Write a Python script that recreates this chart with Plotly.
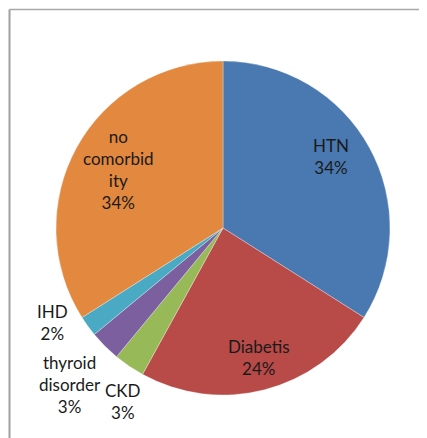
import plotly.graph_objects as go

W, H = 427, 438
OFF = 8  # page body margin offset

# Data
labels = ["HTN", "Diabetis", "CKD", "thyroid disorder", "IHD", "no comorbidity"]
values = [34, 24, 3, 3, 2, 34]
label_text = ["HTN", "Diabetis", "CKD", "thyroid<br>disorder", "IHD", "no<br>comorbid<br>ity"]
colors = ["#4A78B0", "#B84A48", "#97B957", "#7B5F9E", "#4AAAC4", "#E2883F"]

# label placement (pixel centres on page)
label_pos = [(331, 156), (259, 357), (123, 401), (70, 384), (52, 322), (118, 169)]

def px(x):
    return (x - OFF) / W

def py(y):
    return 1 - (y - OFF) / H

fig = go.Figure()
fig.add_trace(go.Pie(
    labels=labels,
    values=values,
    sort=False,
    direction="clockwise",
    rotation=0,
    textinfo="none",
    hoverinfo="label+percent",
    marker=dict(colors=colors, line=dict(color="rgba(255,255,255,0.5)", width=0.6)),
    domain=dict(x=[px(56), px(390)], y=[py(395), py(61)]),
    showlegend=False,
))

total = sum(values)
annotations = []
for t, v, (x, y) in zip(label_text, values, label_pos):
    annotations.append(dict(
        text=f"{t}<br>{round(100 * v / total)}%",
        x=px(x), y=py(y), xref="paper", yref="paper",
        xanchor="center", yanchor="middle", showarrow=False,
        font=dict(family="Lato, Carlito, sans-serif", size=17, color="#1a1a1a"),
        align="center",
    ))

shapes = [
    dict(type="line", xref="paper", yref="paper", x0=px(9.5), x1=px(426), y0=py(9.5), y1=py(9.5),
         line=dict(color="#a8a8a8", width=1.5)),
    dict(type="line", xref="paper", yref="paper", x0=px(9.5), x1=px(9.5), y0=py(9.5), y1=0,
         line=dict(color="#a0a0a0", width=2)),
]

fig.update_layout(
    width=W, height=H,
    margin=dict(l=0, r=0, t=0, b=0),
    paper_bgcolor="white",
    plot_bgcolor="white",
    annotations=annotations,
    shapes=shapes,
)

fig.write_html("out.html")
